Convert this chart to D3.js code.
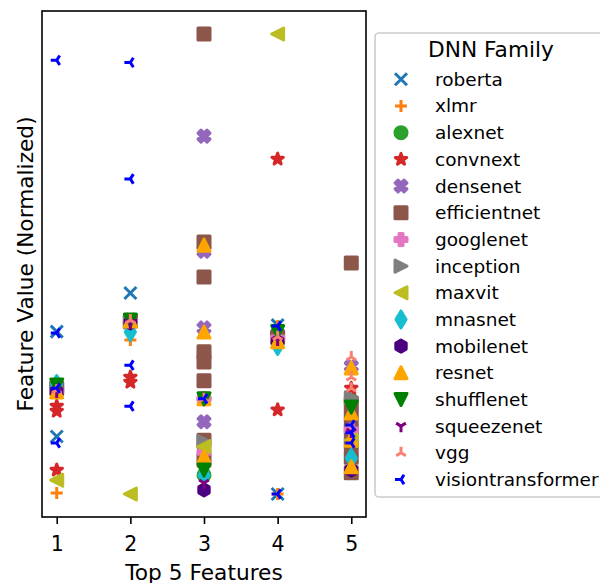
<!DOCTYPE html>
<html lang="en">
<head>
<meta charset="UTF-8">
<title>Top 5 Features by DNN Family</title>
<script src="https://cdn.jsdelivr.net/npm/d3@7/dist/d3.min.js"></script>
<style>
  body { margin: 0; background: #fff; }
  svg text { font-family: "DejaVu Sans", sans-serif; fill: #000; }
</style>
</head>
<body>
<svg id="chart" width="600" height="583"></svg>
<script>
// feature index (1..5) and normalized value, one small list per family
const roberta = [[1, 0.353], [1, 0.125], [2, 0.437], [4, 0.367], [4, 0.000]];
const xlmr = [[1, 0.002], [2, 0.335], [3, 0.207], [4, 0.365], [4, 0.000], [5, 0.170]];
const alexnet = [[1, 0.230], [2, 0.376], [3, 0.207], [3, 0.041], [4, 0.350], [5, 0.204]];
const convnext = [[1, 0.191], [1, 0.180], [1, 0.052], [2, 0.254], [2, 0.243], [4, 0.728], [4, 0.183], [5, 0.230]];
const densenet = [[1, 0.230], [2, 0.378], [3, 0.778], [3, 0.528], [3, 0.361], [3, 0.157], [4, 0.346], [5, 0.278]];
const efficientnet = [[1, 0.230], [2, 0.376], [3, 1.000], [3, 0.548], [3, 0.472], [3, 0.309], [3, 0.287], [3, 0.246],
                      [3, 0.117], [3, 0.074], [4, 0.341], [5, 0.502], [5, 0.198], [5, 0.170], [5, 0.140],
                      [5, 0.110], [5, 0.080], [5, 0.046]];
const googlenet = [[1, 0.226], [2, 0.374], [3, 0.207], [3, 0.091], [4, 0.339], [5, 0.139]];
const inception = [[1, 0.230], [2, 0.374], [3, 0.114], [5, 0.209]];
const maxvit = [[1, 0.030], [2, 0.000], [3, 0.103], [4, 1.000], [5, 0.117]];
const mnasnet = [[1, 0.239], [2, 0.352], [3, 0.041], [4, 0.322], [5, 0.078]];
const mobilenet = [[1, 0.222], [2, 0.372], [3, 0.009], [4, 0.331], [5, 0.052]];
const resnet = [[1, 0.222], [2, 0.376], [3, 0.541], [3, 0.352], [3, 0.207], [3, 0.081], [4, 0.331],
                [5, 0.274], [5, 0.176], [5, 0.117], [5, 0.059]];
const shufflenet = [[1, 0.237], [2, 0.378], [3, 0.207], [3, 0.052], [4, 0.353], [5, 0.189]];
const squeezenet = [[1, 0.222], [2, 0.372], [3, 0.024], [4, 0.335], [5, 0.135]];
const vgg = [[1, 0.226], [2, 0.378], [3, 0.207], [4, 0.342], [5, 0.298], [5, 0.254], [5, 0.230]];
const visiontransformer = [[1, 0.943], [1, 0.350], [1, 0.230], [1, 0.111], [2, 0.938], [2, 0.685], [2, 0.280],
                           [2, 0.191], [3, 0.207], [4, 0.365], [4, 0.000], [5, 0.150], [5, 0.133], [5, 0.111]];

const families = ["roberta", "xlmr", "alexnet", "convnext", "densenet", "efficientnet", "googlenet", "inception",
                  "maxvit", "mnasnet", "mobilenet", "resnet", "shufflenet", "squeezenet", "vgg", "visiontransformer"];
const featureTicks = [1, 2, 3, 4, 5];

const points = {roberta, xlmr, alexnet, convnext, densenet, efficientnet, googlenet, inception,
                maxvit, mnasnet, mobilenet, resnet, shufflenet, squeezenet, vgg, visiontransformer};

// matplotlib-ish marker + colour per family
const style = {
  roberta: ["x", "#1f77b4"], xlmr: ["+", "#ff7f0e"], alexnet: ["o", "#2ca02c"], convnext: ["*", "#d62728"],
  densenet: ["X", "#9467bd"], efficientnet: ["s", "#8c564b"], googlenet: ["P", "#e377c2"], inception: [">", "#7f7f7f"],
  maxvit: ["<", "#bcbd22"], mnasnet: ["d", "#17becf"], mobilenet: ["h", "#4b0082"], resnet: ["^", "#ffa500"],
  shufflenet: ["v", "#008000"], squeezenet: ["1", "#800080"], vgg: ["2", "#fa8072"], visiontransformer: ["3", "#0000ff"]
};

const M = 12; // marker size in px
const lineMarkers = new Set(["x", "+", "1", "2", "3"]);

function poly(pts) {
  return "M" + pts.map(p => p[0].toFixed(2) + "," + p[1].toFixed(2)).join("L") + "Z";
}

function markerPath(code) {
  const h = M / 2;
  switch (code) {
    case "x": return `M${-h},${-h}L${h},${h}M${-h},${h}L${h},${-h}`;
    case "+": return `M${-h},0L${h},0M0,${-h}L0,${h}`;
    case "o": return d3.symbol(d3.symbolCircle, Math.PI * h * h)();
    case "s": return poly([[-h, -h], [h, -h], [h, h], [-h, h]]);
    case "^": return poly([[0, -h], [h, h], [-h, h]]);
    case "v": return poly([[0, h], [h, -h], [-h, -h]]);
    case ">": return poly([[h, 0], [-h, h], [-h, -h]]);
    case "<": return poly([[-h, 0], [h, -h], [h, h]]);
    case "d": {
      const r = M * Math.SQRT1_2;
      return poly([[0, -r], [0.6 * r, 0], [0, r], [-0.6 * r, 0]]);
    }
    case "h": return poly(d3.range(6).map(k => {
      const a = (90 + k * 60) * Math.PI / 180;
      return [h * Math.cos(a), -h * Math.sin(a)];
    }));
    case "*": return poly(d3.range(10).map(k => {
      const a = (90 + k * 36) * Math.PI / 180;
      const r = k % 2 ? h * 0.381966 : h;
      return [r * Math.cos(a), -r * Math.sin(a)];
    }));
    case "X": return poly([[-1, -2], [0, -1], [1, -2], [2, -1], [1, 0], [2, 1], [1, 2], [0, 1], [-1, 2], [-2, 1], [-1, 0], [-2, -1]]
                          .map(p => [p[0] * M / 4, p[1] * M / 4]));
    case "P": return poly([[-1, -3], [1, -3], [1, -1], [3, -1], [3, 1], [1, 1], [1, 3], [-1, 3], [-1, 1], [-3, 1], [-3, -1], [-1, -1]]
                          .map(p => [p[0] * M / 6, p[1] * M / 6]));
    case "1": return `M0,0L0,${h}M0,0L${0.8 * h},${-0.5 * h}M0,0L${-0.8 * h},${-0.5 * h}`;
    case "2": return `M0,0L0,${-h}M0,0L${0.8 * h},${0.5 * h}M0,0L${-0.8 * h},${0.5 * h}`;
    case "3": return `M0,0L${-h},0M0,0L${0.5 * h},${-0.8 * h}M0,0L${0.5 * h},${0.8 * h}`;
  }
}

function drawMarker(sel, fam) {
  const [code, color] = style[fam];
  const line = lineMarkers.has(code);
  sel.attr("d", markerPath(code))
    .attr("fill", line ? "none" : color)
    .attr("stroke", color)
    .attr("stroke-width", 3)
    .attr("stroke-linejoin", "round");
}

const svg = d3.select("#chart");
const plot = { left: 42, right: 366, top: 11, bottom: 517 };

const x = d3.scaleLinear().domain([0.8, 5.2]).range([plot.left, plot.right]);
const y = d3.scaleLinear().domain([-0.05, 1.05]).range([plot.bottom, plot.top]);

// points, family by family so later ones sit on top
families.forEach(fam => {
  svg.append("g").selectAll("path")
    .data(points[fam])
    .enter()
    .append("path")
    .attr("transform", d => `translate(${x(d[0])},${y(d[1])})`)
    .call(drawMarker, fam);
});

// frame
svg.append("rect")
  .attr("x", plot.left).attr("y", plot.top)
  .attr("width", plot.right - plot.left).attr("height", plot.bottom - plot.top)
  .attr("fill", "none").attr("stroke", "#000").attr("stroke-width", 1.6);

// x axis
const xAxis = svg.append("g")
  .attr("transform", `translate(0,${plot.bottom})`)
  .call(d3.axisBottom(x).tickValues(featureTicks).tickFormat(d3.format("d")).tickSize(7).tickPadding(12));
xAxis.select(".domain").remove();
xAxis.selectAll(".tick line").attr("stroke", "#000").attr("stroke-width", 1.6);
xAxis.selectAll(".tick text").attr("font-size", 20.5).attr("font-family", "DejaVu Sans").attr("fill", "#000");

svg.append("text")
  .attr("x", (plot.left + plot.right) / 2).attr("y", 580)
  .attr("text-anchor", "middle").attr("font-size", 21.7)
  .text("Top 5 Features");

svg.append("text")
  .attr("transform", `translate(33,${(plot.top + plot.bottom) / 2}) rotate(-90)`)
  .attr("text-anchor", "middle").attr("font-size", 21.7)
  .text("Feature Value (Normalized)");

// legend
const legend = svg.append("g");
legend.append("rect")
  .attr("x", 375).attr("y", 33).attr("width", 232).attr("height", 464).attr("rx", 4)
  .attr("fill", "#fff").attr("fill-opacity", 0.8)
  .attr("stroke", "#cccccc").attr("stroke-width", 1.6);
legend.append("text")
  .attr("x", 491).attr("y", 57).attr("text-anchor", "middle").attr("font-size", 21.7)
  .text("DNN Family");

const rowY = d3.scaleLinear().domain([0, families.length - 1]).range([79.3, 479.5]);
families.forEach((fam, i) => {
  legend.append("path")
    .attr("transform", `translate(401,${rowY(i)})`)
    .call(drawMarker, fam);
  legend.append("text")
    .attr("x", 435).attr("y", rowY(i) + 6.5).attr("font-size", 18.5)
    .text(fam);
});
</script>
</body>
</html>
